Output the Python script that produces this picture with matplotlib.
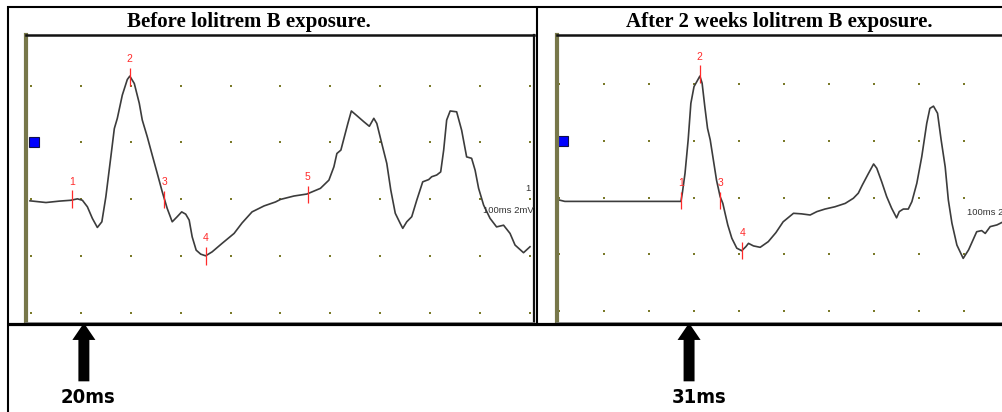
import matplotlib
matplotlib.use("Agg")
import matplotlib.pyplot as plt
from matplotlib.lines import Line2D
from matplotlib import font_manager

# sweep before exposure: time (ms, 10 ms/div) and amplitude (mV, 2 mV/div)
before_t = [-0.2, 3.0, 5.7, 8.0, 9.3, 10.3, 11.3, 12.3, 13.3, 14.2,
            15.0, 16.0, 16.7, 17.3, 18.3, 19.3, 19.8, 20.7, 21.7, 22.3,
            23.3, 24.3, 25.3, 26.3, 27.3, 28.3, 29.3, 30.2, 31.0, 31.7,
            32.3, 33.1, 34.0, 35.0, 36.3, 38.3, 40.7, 42.3, 44.3, 46.7,
            49.0, 50.0, 52.7, 55.3, 58.0, 59.7, 60.7, 61.3, 62.1, 62.8,
            63.5, 64.2, 65.2, 66.7, 67.8, 68.7, 69.3, 70.3, 71.3, 72.1,
            73.0, 74.0, 74.5, 75.3, 76.3, 77.3, 78.5, 79.7, 80.3, 81.3,
            82.1, 82.7, 83.3, 84.0, 85.3, 86.3, 87.3, 88.3, 89.0, 89.7,
            90.7, 92.0, 93.3, 94.7, 96.0, 97.0, 98.7, 100.0]
before_v = [-0.06, -0.12, -0.07, -0.04, 0.01, -0.04, -0.27, -0.68, -1.00, -0.80,
            0.08, 1.49, 2.49, 2.85, 3.67, 4.22, 4.34, 4.08, 3.38, 2.79,
            2.20, 1.55, 0.91, 0.26, -0.33, -0.80, -0.62, -0.45, -0.53, -0.74,
            -1.33, -1.80, -1.94, -2.00, -1.86, -1.56, -1.21, -0.84, -0.45, -0.24,
            -0.10, -0.01, 0.11, 0.18, 0.38, 0.67, 1.14, 1.61, 1.73, 2.20,
            2.67, 3.11, 2.96, 2.73, 2.57, 2.85, 2.67, 1.96, 1.26, 0.32,
            -0.50, -0.86, -1.03, -0.80, -0.62, -0.04, 0.61, 0.69, 0.79, 0.85,
            0.96, 1.73, 2.79, 3.11, 3.08, 2.43, 1.49, 1.44, 1.02, 0.38,
            -0.21, -0.68, -0.98, -0.92, -1.21, -1.62, -1.89, -1.68]

# sweep after 2 weeks exposure
after_t = [0.0, 1.3, 15.4, 27.1, 27.4, 28.0, 28.7, 29.3, 30.0, 30.6,
           31.3, 31.8, 32.4, 33.0, 33.6, 34.3, 35.0, 35.8, 36.4, 36.9,
           37.5, 38.4, 39.5, 40.6, 41.5, 42.1, 43.2, 44.7, 46.5, 48.2,
           49.8, 52.1, 53.9, 55.8, 57.3, 59.1, 61.3, 63.6, 65.4, 66.5,
           67.4, 68.7, 69.9, 70.6, 71.7, 72.8, 73.9, 75.0, 75.6, 76.5,
           77.6, 78.4, 79.5, 80.6, 81.7, 82.4, 83.2, 84.1, 84.9, 85.8,
           86.5, 87.3, 88.4, 89.8, 91.0, 92.8, 93.9, 94.7, 95.8, 97.3,
           98.7, 100.5]
after_v = [-0.08, -0.13, -0.13, -0.13, 0.16, 0.86, 2.04, 3.33, 3.92, 4.09,
           4.29, 4.04, 3.21, 2.45, 2.04, 1.33, 0.62, 0.04, -0.20, -0.55,
           -0.96, -1.43, -1.78, -1.87, -1.73, -1.61, -1.70, -1.75, -1.55, -1.23,
           -0.85, -0.55, -0.57, -0.61, -0.49, -0.40, -0.32, -0.20, -0.02, 0.16,
           0.45, 0.84, 1.19, 1.04, 0.56, 0.04, -0.37, -0.71, -0.49, -0.40,
           -0.40, -0.14, 0.51, 1.45, 2.62, 3.15, 3.23, 2.98, 2.04, 1.09,
           -0.08, -0.90, -1.67, -2.14, -1.84, -1.20, -1.16, -1.26, -1.02, -0.96,
           -0.85, -0.80]

# cursor markers (time, amplitude)
before_mark_t = [8.2, 19.8, 26.7, 35.0, 55.5]
before_mark_v = [0.0, 4.31, -0.02, -2.0, 0.16]
after_mark_t = [27.1, 31.3, 35.8, 40.7]
after_mark_v = [-0.1, 4.36, -0.1, -1.86]

titles = ["Before lolitrem B exposure.", "After 2 weeks lolitrem B exposure."]
latency_labels = ["20ms", "31ms"]
scale_label = "100ms 2mV"

W, H = 1003, 412
TRACE = "#3c3c3c"
RED = "#ff2b2b"
DOT = "#7a7a2a"

names = {f.name for f in font_manager.fontManager.ttflist}
mark_font = "Liberation Sans Narrow" if "Liberation Sans Narrow" in names else "Liberation Sans"


def fx(px):
    return px / W


def fy(py):
    return 1 - py / H


fig = plt.figure(figsize=(10.03, 4.12), dpi=100)


def draw_panel(x0, x1, xlim, ylim, t, v, mt, mv, dot_cols, square_t):
    ax = fig.add_axes([fx(x0), fy(323), fx(x1) - fx(x0), (323 - 35) / H])
    ax.set_xlim(*xlim)
    ax.set_ylim(*ylim)
    ax.set_xticks([])
    ax.set_yticks([])

    # dotted grid
    gx = [c * 10 for c in range(dot_cols)]
    for gy in [-4, -2, 0, 2, 4]:
        ax.plot(gx, [gy] * len(gx), ls="none", marker="s", ms=1.8,
                mew=0, color=DOT)

    ax.plot(t, v, color=TRACE, lw=1.2)

    ax.vlines(mt, [m - 0.31 for m in mv], [m + 0.31 for m in mv],
              colors=RED, lw=0.9)
    for i, (a, b) in enumerate(zip(mt, mv)):
        ax.text(a, b + 0.62, str(i + 1), ha="center", va="center",
                color=RED, fontsize=7.5, family=mark_font)

    ax.plot(square_t, 2.0, marker="s", ms=6.5, mfc="#0000ff", mec="#10104a",
            mew=0.8, clip_on=False)

    ax.spines["top"].set_color("#111111")
    ax.spines["top"].set_linewidth(1.8)
    ax.spines["right"].set_color("#111111")
    ax.spines["right"].set_linewidth(1.6)
    ax.spines["bottom"].set_color("#888888")
    ax.spines["bottom"].set_linewidth(1.2)
    ax.spines["left"].set_color("#77774a")
    ax.spines["left"].set_linewidth(3.0)
    return ax


ax1 = draw_panel(26, 534, (-1, 100.8), (-4.37, 5.79), before_t, before_v,
                 before_mark_t, before_mark_v, 11, 0.6)
ax1.text(90.6, -0.41, scale_label, fontsize=6.8, color="#333333",
         ha="left", va="center", family="Liberation Sans")
ax1.text(99.5, 0.36, "1", fontsize=6.8, color="#333333",
         ha="center", va="center", family="Liberation Sans")

ax2 = draw_panel(557, 1010, (-0.44, 100.2), (-4.42, 5.74), after_t, after_v,
                 after_mark_t, after_mark_v, 10, 0.9)
ax2.spines["right"].set_visible(False)
ax2.text(90.6, -0.51, scale_label, fontsize=6.8, color="#333333",
         ha="left", va="center", family="Liberation Sans")

# titles
fig.text(fx(249), fy(26.7), titles[0], ha="center", va="baseline",
         family="Liberation Serif", weight="bold", fontsize=15)
fig.text(fx(779), fy(26.7), titles[1], ha="center", va="baseline",
         family="Liberation Serif", weight="bold", fontsize=15)

# latency arrows under each panel
for ax, at, lt, lab in [(ax1, 10.6, 11.5, latency_labels[0]),
                        (ax2, 28.9, 31.1, latency_labels[1])]:
    ax.annotate("", xy=(at, 0), xycoords=("data", "axes fraction"),
                xytext=(0, -42), textcoords="offset points",
                annotation_clip=False,
                arrowprops=dict(arrowstyle="simple,head_length=1.22,head_width=1.66,tail_width=0.79",
                                mutation_scale=10, fc="black", ec="black",
                                lw=0, shrinkA=0, shrinkB=0))
    ax.annotate(lab, xy=(lt, 0), xycoords=("data", "axes fraction"),
                xytext=(0, -53.5), textcoords="offset points",
                ha="center", va="center", annotation_clip=False,
                fontsize=14.5, weight="bold", family="DejaVu Sans",
                fontstretch="condensed")


# table borders
def hline(y, x0, x1, lw):
    fig.add_artist(Line2D([fx(x0), fx(x1)], [fy(y), fy(y)], color="black",
                          lw=lw, transform=fig.transFigure, solid_capstyle="butt"))


def vline(x, y0, y1, lw):
    fig.add_artist(Line2D([fx(x), fx(x)], [fy(y0), fy(y1)], color="black",
                          lw=lw, transform=fig.transFigure, solid_capstyle="butt"))


hline(7, 7, 1003, 1.5)
vline(8, 6, 412, 1.5)
vline(537.5, 6, 324, 1.5)
hline(323.8, 7, 1003, 2.3)

fig.savefig("out.png", dpi=100)
